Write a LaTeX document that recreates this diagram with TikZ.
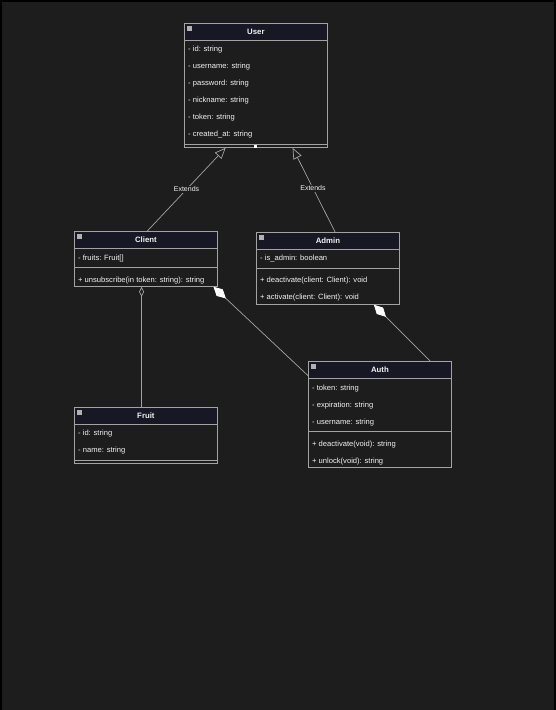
\documentclass[tikz,border=0pt]{standalone}
\usepackage{fontspec}
\setmainfont{Liberation Sans}
\usetikzlibrary{arrows.meta,calc}
\definecolor{bg}{HTML}{1E1D1D}
\definecolor{hdr}{HTML}{181824}
\definecolor{edgec}{HTML}{A3A3A3}
\definecolor{txt}{HTML}{F2F2F2}
\begin{document}
\begin{tikzpicture}[x=1pt,y=-1pt,
  classbox/.style={draw=edgec,fill=bg,line width=0.8pt,inner sep=0pt,minimum width=143pt},
  hdrbox/.style={draw=edgec,fill=hdr,line width=0.8pt,inner sep=0pt,minimum width=143pt,minimum height=17pt,text=txt,font=\fontsize{7.8}{9}\selectfont\bfseries},
  row/.style={anchor=west,text=txt,inner sep=0pt,yshift=-1.3pt,font=\fontsize{7.6}{9}\selectfont},
  sepline/.style={draw=edgec,line width=0.8pt},
  icon/.style={fill=edgec!85,draw=none,minimum size=5pt,inner sep=0pt},
  conn/.style={draw=edgec,line width=0.7pt},
  lbl/.style={fill=bg,text=txt,inner sep=1pt,font=\fontsize{7}{8}\selectfont},
  ext/.style={conn,-{Triangle[open,length=11pt,width=9pt]}},
  comp/.style={conn,{Diamond[length=17pt,width=9pt,fill=white,color=white]}-},
  aggr/.style={conn,{Diamond[open,length=10pt,width=5pt]}-}
]
% background
\fill[black] (0,0) rectangle (556,710);
\fill[bg] (2,2) rectangle (554,710);
\useasboundingbox (0,0) rectangle (556,710);

% User
\node[classbox,minimum height=124pt,anchor=north west] (user) at (184,23) {};
\node[hdrbox,anchor=north west] (userh) at (184,23) {User};
\node[icon,anchor=north west] (useri) at (187,26) {};
\node[row] (u1) at (188,48) {- id: string};
\node[row] (u2) at (188,65) {- username: string};
\node[row] (u3) at (188,82) {- password: string};
\node[row] (u4) at (188,99) {- nickname: string};
\node[row] (u5) at (188,116) {- token: string};
\node[row] (u6) at (188,133) {- created\_at: string};
\draw[sepline] (184,144) -- (327,144);
\node[fill=white,minimum size=3pt,inner sep=0pt] (udot) at (255.5,146) {};

% Client
\node[classbox,minimum height=55pt,anchor=north west] (client) at (74,231) {};
\node[hdrbox,anchor=north west] (clienth) at (74,231) {Client};
\node[icon,anchor=north west] (clienti) at (77,234) {};
\node[row] (c1) at (78,257) {- fruits: Fruit[]};
\draw[sepline] (74,267) -- (217,267);
\node[row] (c2) at (78,279) {+ unsubscribe(in token: string): string};

% Admin
\node[classbox,minimum height=72pt,anchor=north west] (admin) at (256,232) {};
\node[hdrbox,anchor=north west] (adminh) at (256,232) {Admin};
\node[icon,anchor=north west] (admini) at (259,235) {};
\node[row] (a1) at (260,257) {- is\_admin: boolean};
\draw[sepline] (256,268) -- (399,268);
\node[row] (a2) at (260,279) {+ deactivate(client: Client): void};
\node[row] (a3) at (260,296) {+ activate(client: Client): void};

% Auth
\node[classbox,minimum height=106pt,anchor=north west] (auth) at (308,361) {};
\node[hdrbox,anchor=north west] (authh) at (308,361) {Auth};
\node[icon,anchor=north west] (authi) at (311,364) {};
\node[row] (t1) at (312,387) {- token: string};
\node[row] (t2) at (312,404) {- expiration: string};
\node[row] (t3) at (312,421) {- username: string};
\draw[sepline] (308,431) -- (451,431);
\node[row] (t4) at (312,443) {+ deactivate(void): string};
\node[row] (t5) at (312,460) {+ unlock(void): string};

% Fruit
\node[classbox,minimum height=56pt,anchor=north west] (fruit) at (74,407) {};
\node[hdrbox,anchor=north west] (fruith) at (74,407) {Fruit};
\node[icon,anchor=north west] (fruiti) at (77,410) {};
\node[row] (f1) at (78,432) {- id: string};
\node[row] (f2) at (78,449) {- name: string};
\draw[sepline] (74,460) -- (217,460);

% connectors
\draw[ext] ($(clienth.north west)!0.51!(clienth.north east)$)
  -- node[lbl,pos=0.5] (e1) {Extends} ($(user.south west)!0.29!(user.south east)$);
\draw[ext] ($(adminh.north west)!0.55!(adminh.north east)$)
  -- node[lbl,pos=0.52] (e2) {Extends} ($(user.south west)!0.755!(user.south east)$);
\draw[aggr] ($(client.south west)!0.47!(client.south east)$) -- ($(fruith.north west)!0.47!(fruith.north east)$);
\draw[comp] ($(client.south west)!0.97!(client.south east)$) -- ($(authh.north west)!0.82!(authh.south west)$);
\draw[comp] ($(admin.south west)!0.82!(admin.south east)$) -- ($(authh.north west)!0.85!(authh.north east)$);
\end{tikzpicture}
\end{document}
